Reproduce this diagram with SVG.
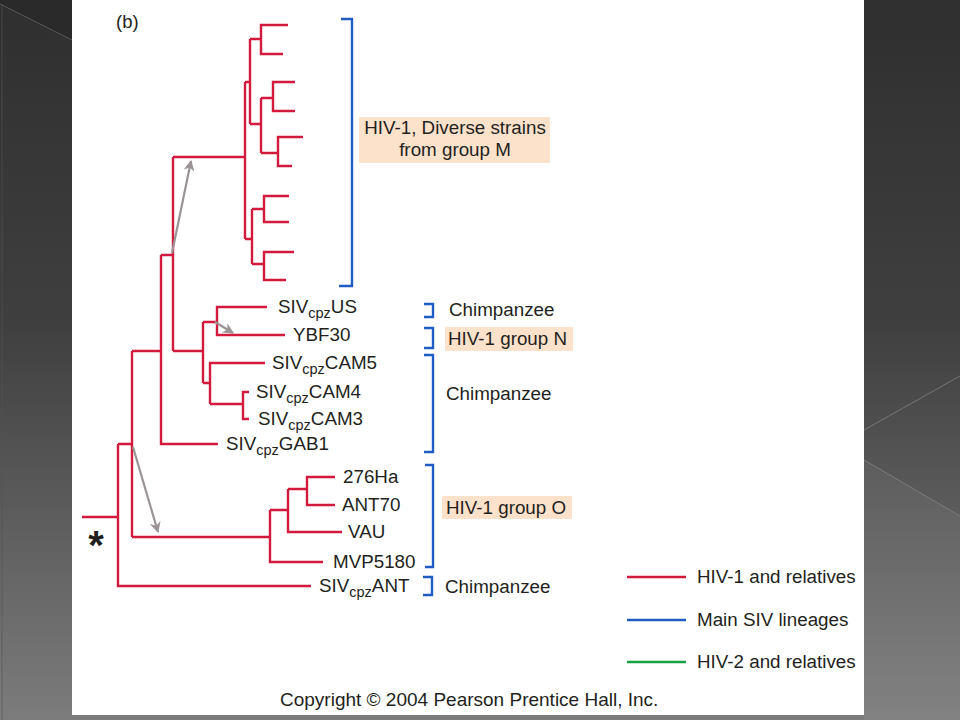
<svg xmlns="http://www.w3.org/2000/svg" width="960" height="720" viewBox="0 0 960 720">
<style>
.br{fill:none;stroke:#d41a3c;stroke-width:2.4;stroke-linejoin:miter;stroke-linecap:butt}
.bk{fill:none;stroke:#1f5cc4;stroke-width:2.4}
.ga{fill:none;stroke:#9b9496;stroke-width:2.2}
.t{font-family:"Liberation Sans",Arial,sans-serif;font-size:18.8px;fill:#231f20}
.s{font-size:14.5px}
.hl{fill:#fde2cb}
</style>
<defs>
<linearGradient id="bg" x1="0" y1="0" x2="0" y2="1">
<stop offset="0" stop-color="#2f2f2f"/>
<stop offset="0.45" stop-color="#3f3f3f"/>
<stop offset="1" stop-color="#7c7c7c"/>
</linearGradient>
<marker id="ah" viewBox="0 0 10 10" refX="9" refY="5" markerWidth="14" markerHeight="11" markerUnits="userSpaceOnUse" orient="auto">
<path d="M0,0 L10,5 L0,10 L3,5 z" fill="#9b9496"/>
</marker>
</defs>
<rect x="0" y="0" width="960" height="720" fill="url(#bg)"/>
<polygon points="0,0 72,0 72,40 0,4" fill="#2a2a2a"/>
<line x1="0" y1="4" x2="72" y2="40" stroke="#5a5a5a" stroke-width="1"/>
<line x1="2" y1="4" x2="2" y2="720" stroke="#555" stroke-width="1" opacity="0.6"/>
<polygon points="864,460 960,516 960,720 864,720" fill="#ffffff" opacity="0.05"/>
<line x1="864" y1="430" x2="960" y2="376" stroke="#8a8a8a" stroke-width="1" opacity="0.7"/>
<line x1="864" y1="460" x2="960" y2="516" stroke="#8a8a8a" stroke-width="1" opacity="0.7"/>
<rect x="72" y="0" width="792" height="715" fill="#ffffff"/>

<text class="t" x="116" y="28" style="font-size:18.5px">(b)</text>

<g id="connectors">
<!-- group M -->
<path class="br" d="M288,25 H261 V54 H283 M261,39 H250"/>
<path class="br" d="M295,82 H273 V111 H295 M273,98 H261"/>
<path class="br" d="M303,137 H278 V166 H292 M278,153 H261"/>
<path class="br" d="M261,98 V153 M261,124 H250"/>
<path class="br" d="M250,39 V124 M250,82 H245"/>
<path class="br" d="M289,196 H264 V222 H289 M264,209 H252"/>
<path class="br" d="M294,252 H264 V280 H286 M264,264 H252"/>
<path class="br" d="M252,209 V264 M252,239 H245"/>
<path class="br" d="M245,82 V239 M245,157 H173"/>
<!-- N and chimps -->
<path class="br" d="M267,307 H217 V335 H285 M217,322 H203"/>
<path class="br" d="M249,392 H243 V419 H249 M243,404 H210"/>
<path class="br" d="M265,363 H210 V404 M210,383 H203"/>
<path class="br" d="M203,322 V383 M203,351 H173"/>
<path class="br" d="M173,157 V351 M173,255 H161"/>
<path class="br" d="M161,255 V444 H218 M161,351 H132"/>
<!-- group O -->
<path class="br" d="M335,477 H307 V505 H335 M307,489 H288"/>
<path class="br" d="M288,489 V532 H342 M288,510 H270"/>
<path class="br" d="M270,510 V562 H323 M270,537 H132"/>
<path class="br" d="M132,351 V537 M132,444 H118"/>
<path class="br" d="M118,444 V586 H311 M118,517 H82"/>
<!-- transmission arrows -->
<line class="ga" x1="172" y1="253" x2="191" y2="161" marker-end="url(#ah)"/>
<line class="ga" x1="215" y1="322" x2="233" y2="333" marker-end="url(#ah)"/>
<line class="ga" x1="133" y1="447" x2="158" y2="532" marker-end="url(#ah)"/>
</g>

<text class="t" x="96" y="559" text-anchor="middle" style="font-size:40px;font-weight:bold">*</text>

<g id="leaf-SIVcpzUS"><text class="t" x="278" y="313">SIV<tspan class="s" dy="5">cpz</tspan><tspan dy="-5">US</tspan></text></g>
<g id="leaf-YBF30"><text class="t" x="293" y="341">YBF30</text></g>
<g id="leaf-SIVcpzCAM5"><text class="t" x="272" y="369">SIV<tspan class="s" dy="5">cpz</tspan><tspan dy="-5">CAM5</tspan></text></g>
<g id="leaf-SIVcpzCAM4"><text class="t" x="256" y="398">SIV<tspan class="s" dy="5">cpz</tspan><tspan dy="-5">CAM4</tspan></text></g>
<g id="leaf-SIVcpzCAM3"><text class="t" x="258" y="425">SIV<tspan class="s" dy="5">cpz</tspan><tspan dy="-5">CAM3</tspan></text></g>
<g id="leaf-SIVcpzGAB1"><text class="t" x="226" y="450">SIV<tspan class="s" dy="5">cpz</tspan><tspan dy="-5">GAB1</tspan></text></g>
<g id="leaf-276Ha"><text class="t" x="343" y="483">276Ha</text></g>
<g id="leaf-ANT70"><text class="t" x="342" y="511">ANT70</text></g>
<g id="leaf-VAU"><text class="t" x="348" y="538">VAU</text></g>
<g id="leaf-MVP5180"><text class="t" x="333" y="568">MVP5180</text></g>
<g id="leaf-SIVcpzANT"><text class="t" x="319" y="592">SIV<tspan class="s" dy="5">cpz</tspan><tspan dy="-5">ANT</tspan></text></g>

<g id="group-M">
<path class="bk" d="M341,19 H352 V286 H339"/>
<rect class="hl" x="359" y="117" width="191" height="46"/>
<text class="t" x="455" y="134" text-anchor="middle">HIV-1, Diverse strains</text>
<text class="t" x="455" y="156" text-anchor="middle">from group M</text>
</g>
<g id="chimp-1">
<path class="bk" d="M424,304 H433 V317 H424"/>
<text class="t" x="449" y="316">Chimpanzee</text>
</g>
<g id="group-N">
<path class="bk" d="M424,328 H433 V348 H424"/>
<rect class="hl" x="445" y="327" width="128" height="24"/>
<text class="t" x="448" y="345">HIV-1 group N</text>
</g>
<g id="chimp-2">
<path class="bk" d="M424,355 H433 V452 H424"/>
<text class="t" x="446" y="400">Chimpanzee</text>
</g>
<g id="group-O">
<path class="bk" d="M425,465 H433 V567 H425"/>
<rect class="hl" x="442" y="496" width="130" height="23"/>
<text class="t" x="446" y="514">HIV-1 group O</text>
</g>
<g id="chimp-3">
<path class="bk" d="M423,577 H432 V595 H423"/>
<text class="t" x="445" y="593">Chimpanzee</text>
</g>

<g id="legend">
<line x1="627" y1="577" x2="686" y2="577" stroke="#d41a3c" stroke-width="2.4"/>
<text class="t" x="697" y="583">HIV-1 and relatives</text>
<line x1="627" y1="620" x2="686" y2="620" stroke="#1f5cc4" stroke-width="2.4"/>
<text class="t" x="697" y="626">Main SIV lineages</text>
<line x1="627" y1="662" x2="686" y2="662" stroke="#18a044" stroke-width="2.4"/>
<text class="t" x="697" y="668">HIV-2 and relatives</text>
</g>

<text class="t" x="280" y="706" style="font-size:19px">Copyright © 2004 Pearson Prentice Hall, Inc.</text>
</svg>
